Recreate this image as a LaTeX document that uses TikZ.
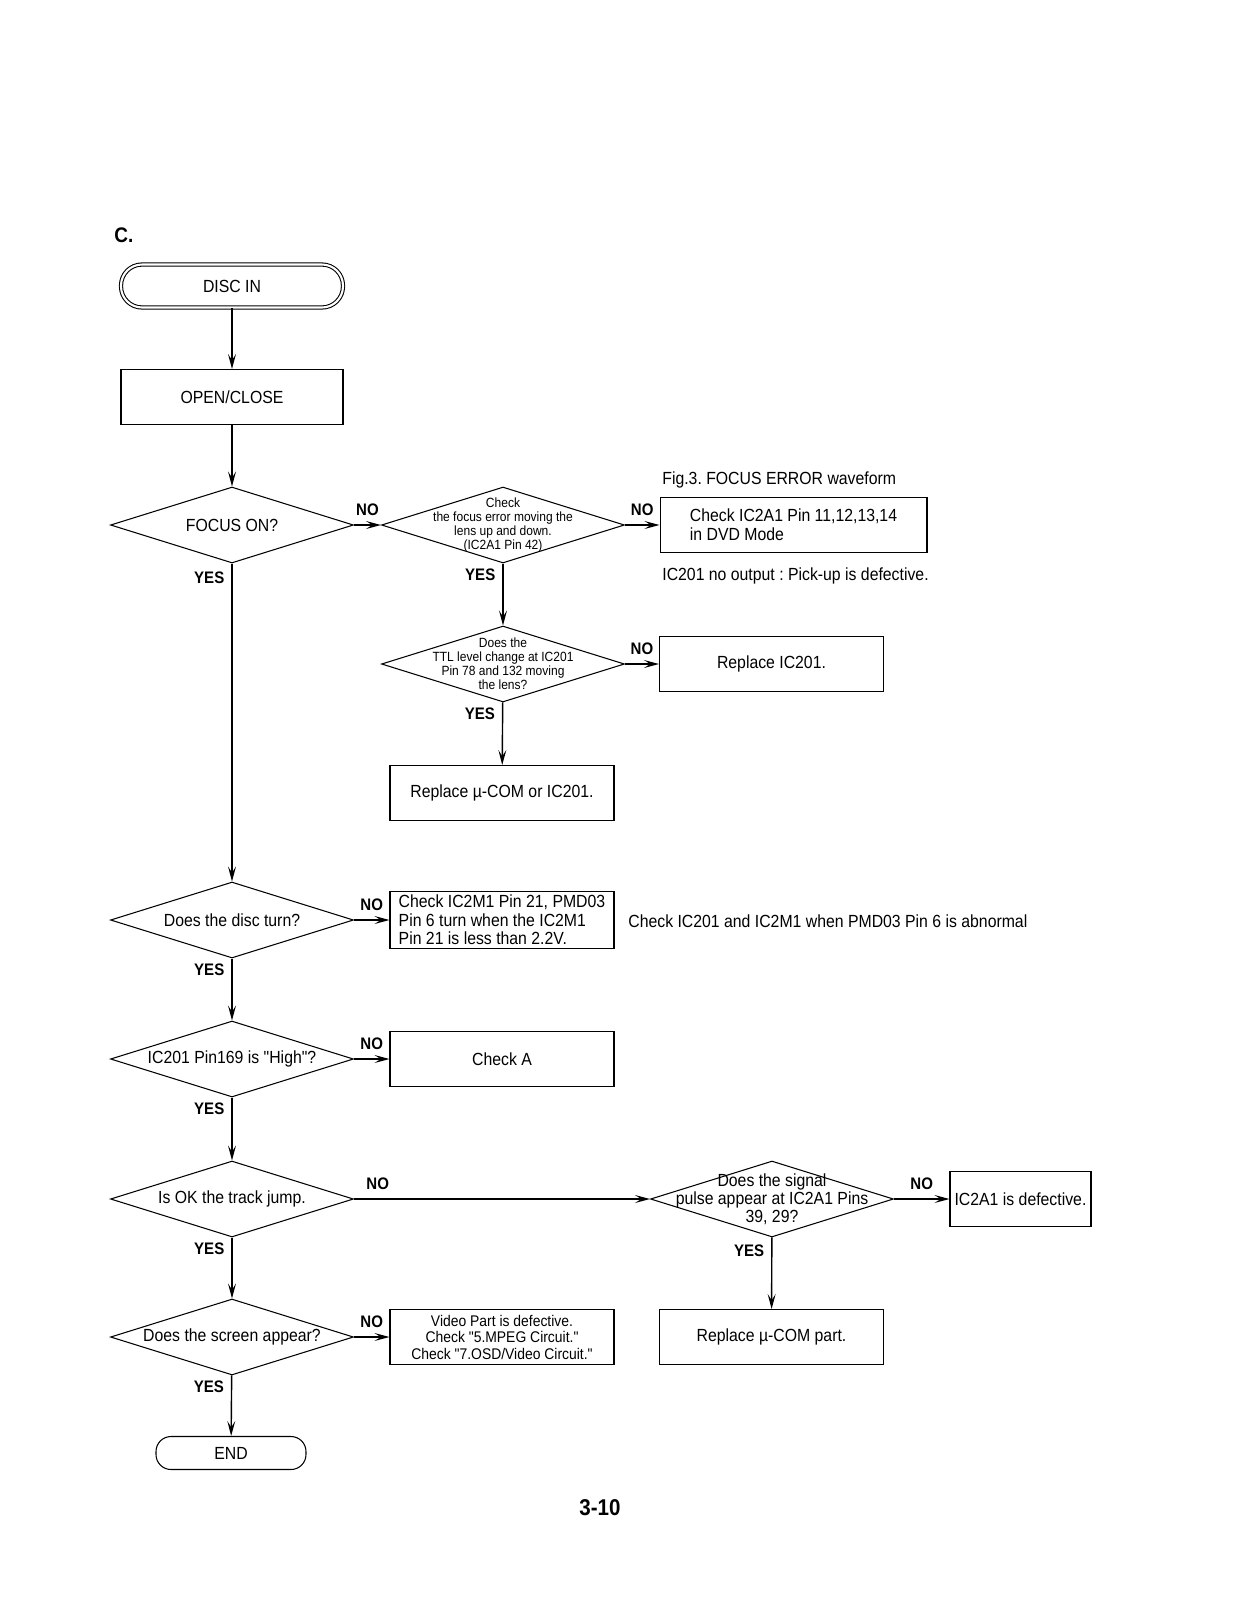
\documentclass[tikz,border=0pt]{standalone}
\usepackage{fontspec}
\setmainfont{Liberation Sans}[FakeStretch=0.9, Ligatures=TeXOff]
\usetikzlibrary{shapes.geometric,arrows.meta}

\newcommand{\plaintxt}{\fontsize{10}{10.6pt}\selectfont}
\newcommand{\tinytxt}{\fontsize{7.6}{7.9pt}\selectfont}
\newcommand{\midtxt}{\fontsize{8.8}{9.4pt}\selectfont}
\newcommand{\yntxt}{\fontsize{9.5}{11pt}\selectfont\bfseries}

\tikzset{
  box/.style={draw, line width=0.6pt, minimum width=4.48cm, minimum height=1.1cm,
    inner sep=2pt, align=left, font=\plaintxt},
  term/.style={draw, line width=0.6pt, font=\plaintxt},
  dia/.style={draw, diamond, line width=0.6pt, minimum width=4.86cm,
    minimum height=1.52cm, inner sep=0pt},
  dlbl/.style={align=center, font=\plaintxt, inner sep=0pt},
  yn/.style={font=\yntxt, inner sep=0pt},
  no/.style={yn, above=5pt},
  yes/.style={yn, left=4pt, pos=0.18},
  note/.style={anchor=west, font=\plaintxt, inner sep=0pt},
  arr/.style={line width=0.8pt, -{Stealth[length=8.5pt,width=4.5pt,inset=3.5pt]}}
}

\begin{document}
\frenchspacing
\begin{tikzpicture}[x=0.02cm, y=-0.02cm]
  \useasboundingbox (0,0) rectangle (1232,1600);

  \node[anchor=west, inner sep=0pt, font=\fontsize{12}{14}\selectfont\bfseries] (title) at (114,235) {C.};

  % main column
  \node[term, double, double distance=1.2pt, rounded corners=0.42cm,
        minimum width=4.44cm, minimum height=0.86cm] (discin) at (232,286) {DISC IN};
  \node[box, align=center, minimum width=4.44cm] (open) at (232,397) {OPEN/CLOSE};
  \node[dia, label={[dlbl]center:FOCUS ON?}] (focus) at (232,525) {};
  \node[dia, label={[dlbl]center:Does the disc turn?}] (turn) at (232,920) {};
  \node[dia, label={[dlbl]center:IC201 Pin169 is "High"?}] (high) at (232,1059) {};
  \node[dia, label={[dlbl]center:Is OK the track jump.}] (jump) at (232,1199) {};
  \node[dia, label={[dlbl]center:Does the screen appear?}] (screen) at (232,1337) {};
  \node[term, rounded corners=0.3cm, minimum width=3cm, minimum height=0.66cm] (end) at (231,1453) {END};

  % focus branch
  \node[dia, label={[dlbl, font=\tinytxt]center:{Check\\the focus error moving the\\lens up and down.\\(IC2A1 Pin 42)}}] (ferr) at (503,525) {};
  \node[box, minimum width=5.34cm] (chkpin) at (793.5,525) {Check IC2A1 Pin 11,12,13,14\\in DVD Mode};
  \node[note] (fig) at (662,480) {Fig.3. FOCUS ERROR waveform};
  \node[note] (noout) at (662,576) {IC201 no output : Pick-up is defective.};
  \node[dia, label={[dlbl, font=\tinytxt]center:{Does the\\TTL level change at IC201\\Pin 78 and 132 moving\\the lens?}}] (ttl) at (503,664) {};
  \node[box, align=center] (repic) at (771.5,664) {Replace IC201.};
  \node[box, align=center] (repmc) at (502,793) {Replace µ-COM or IC201.};

  % right hand boxes
  \node[box] (chkm1) at (502,920) {Check IC2M1 Pin 21, PMD03\\Pin 6 turn when the IC2M1\\Pin 21 is less than 2.2V.};
  \node[note] (abn) at (628,921) {Check IC201 and IC2M1 when PMD03 Pin 6 is abnormal};
  \node[box, align=center] (chka) at (502,1059) {Check A};
  \node[dia, label={[dlbl, font=\fontsize{10}{8.8pt}\selectfont]center:{Does the signal\\pulse appear at IC2A1 Pins\\39, 29?}}] (pulse) at (772,1199) {};
  \node[box, minimum width=2.82cm] (defect) at (1020.5,1199) {IC2A1 is defective.};
  \node[box, align=center] (repmc2) at (771.5,1337) {Replace µ-COM part.};
  \node[box, align=center, font=\midtxt] (video) at (502,1337) {Video Part is defective.\\Check "5.MPEG Circuit."\\Check "7.OSD/Video Circuit."};

  \node[inner sep=0pt, font=\fontsize{13}{15}\selectfont\bfseries] (pagenum) at (600,1508) {3-10};

  % connectors
  \draw[arr] (discin) -- (open);
  \draw[arr] (open) -- (focus);
  \draw[arr] (focus) -- node[no] {NO} (ferr);
  \draw[arr] (ferr) -- node[no] {NO} (chkpin);
  \draw[arr] (ferr) -- node[yes] {YES} (ttl);
  \draw[arr] (ttl) -- node[no] {NO} (repic);
  \draw[arr] (ttl) -- node[yes] {YES} (repmc);
  \draw[arr] (focus) -- node[yes, pos=0.045] {YES} (turn);
  \draw[arr] (turn) -- node[no] {NO} (chkm1);
  \draw[arr] (turn) -- node[yes] {YES} (high);
  \draw[arr] (high) -- node[no] {NO} (chka);
  \draw[arr] (high) -- node[yes] {YES} (jump);
  \draw[arr] (jump) -- node[no, pos=0.08] {NO} (pulse);
  \draw[arr] (pulse) -- node[no] {NO} (defect);
  \draw[arr] (pulse) -- node[yes] {YES} (repmc2);
  \draw[arr] (jump) -- node[yes] {YES} (screen);
  \draw[arr] (screen) -- node[no] {NO} (video);
  \draw[arr] (screen) -- node[yes] {YES} (end);
\end{tikzpicture}
\end{document}
